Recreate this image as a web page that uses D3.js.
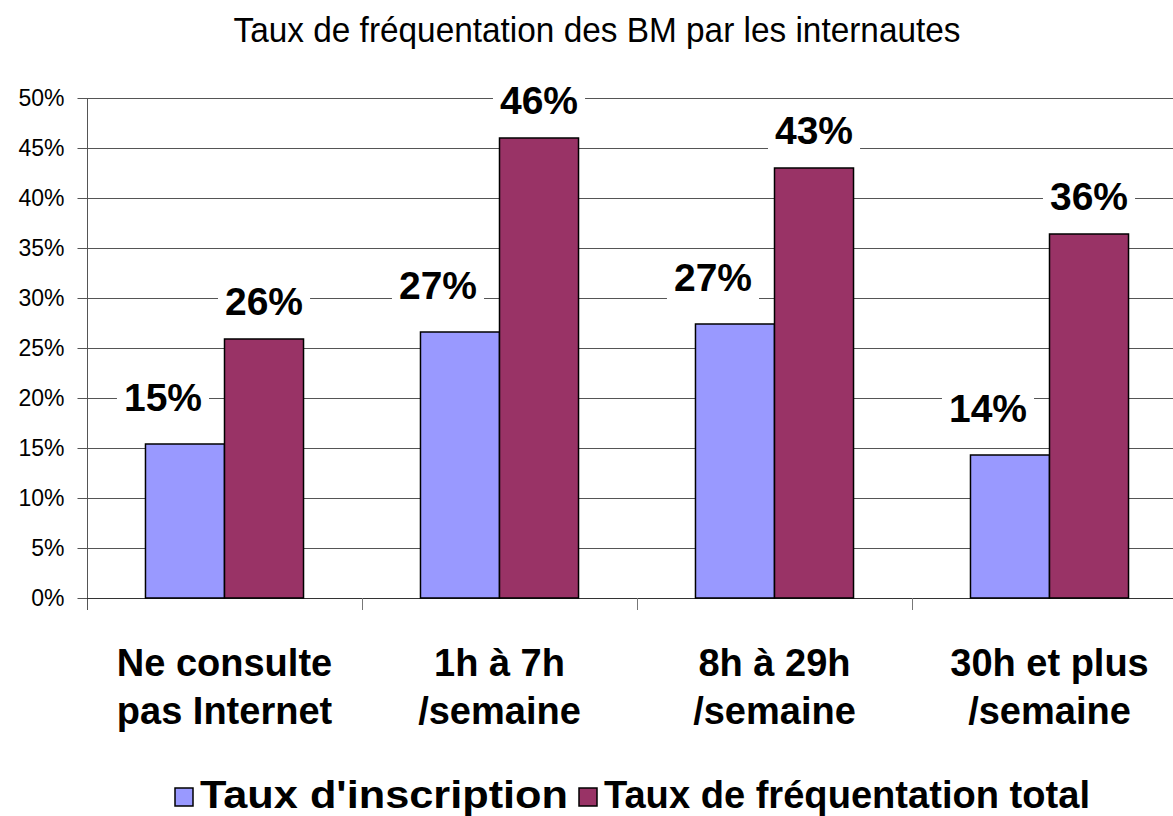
<html>
<head>
<meta charset="utf-8">
<style>
body { margin: 0; background: #fff; }
text { font-family: "Liberation Sans", Arial, sans-serif; }
</style>
</head>
<body>
<div id=chart></div>
<script src="https://cdn.jsdelivr.net/npm/d3@7"></script>
<script>
var categories = [["Ne consulte", "pas Internet"], ["1h à 7h", "/semaine"], ["8h à 29h", "/semaine"], ["30h et plus", "/semaine"]];
var seriesNames = ["Taux d'inscription", "Taux de fréquentation total"];
var inscription = [0.154, 0.266, 0.274, 0.143];
var frequentation = [0.259, 0.460, 0.430, 0.364];
var yTicks = [0, 0.05, 0.10, 0.15, 0.20, 0.25, 0.30, 0.35, 0.40, 0.45, 0.50];
var colors = ["#9999ff", "#993366"];

var W = 1173, H = 816;
var svg = d3.select("#chart").append("svg").attr("width", W).attr("height", H);

var mLeft = 87, mTop = 98, mBottom = 598, bandW = 275;
var catKeys = categories.map(function (c, i) { return i; });

var x = d3.scaleBand().domain(catKeys).range([mLeft, mLeft + bandW * catKeys.length]);
var x1 = d3.scaleBand().domain([0, 1]).range([0, x.bandwidth()]).paddingOuter(0.74);
var y = d3.scaleLinear().domain([0, 0.5]).range([mBottom, mTop]);

// title (narrow face in the original, so squeeze it)
svg.append("text")
    .attr("x", 597).attr("y", 42)
    .attr("text-anchor", "middle")
    .attr("font-size", 35)
    .attr("textLength", 727).attr("lengthAdjust", "spacingAndGlyphs")
    .text("Taux de fréquentation des BM par les internautes");

// gridlines
svg.append("g").selectAll("line").data(yTicks.slice(1)).join("line")
    .attr("x1", mLeft).attr("x2", W)
    .attr("y1", function (d) { return Math.round(y(d)) + 0.5; })
    .attr("y2", function (d) { return Math.round(y(d)) + 0.5; })
    .attr("stroke", "#555");

// y axis
var yAxis = d3.axisLeft(y).tickValues(yTicks).tickFormat(d3.format(".0%")).tickSize(10).tickPadding(13);
var gy = svg.append("g").attr("transform", "translate(" + (mLeft + 0.5) + ",0)").call(yAxis);
gy.select(".domain").attr("stroke", "#555").attr("d", "M0," + mTop + "V" + (mBottom + 12));
gy.selectAll(".tick line").attr("stroke", "#555");
gy.selectAll(".tick text").attr("font-size", 23).attr("font-family", "Liberation Sans, Arial, sans-serif").attr("fill", "#000");

// x axis line and category ticks
svg.append("line").attr("x1", mLeft).attr("x2", W)
    .attr("y1", mBottom + 0.5).attr("y2", mBottom + 0.5).attr("stroke", "#333");
svg.append("g").selectAll("line").data(catKeys.slice(1)).join("line")
    .attr("x1", function (d) { return Math.round(x(d)) + 0.5; })
    .attr("x2", function (d) { return Math.round(x(d)) + 0.5; })
    .attr("y1", mBottom).attr("y2", mBottom + 12)
    .attr("stroke", "#777");

// category labels
var cl = svg.append("g").selectAll("text").data(catKeys).join("text")
    .attr("x", function (d) { return x(d) + x.bandwidth() / 2; })
    .attr("y", 676)
    .attr("text-anchor", "middle")
    .attr("font-size", 38).attr("font-weight", "bold");
cl.selectAll("tspan").data(function (d) { return categories[d]; }).join("tspan")
    .attr("x", function () { return d3.select(this.parentNode).attr("x"); })
    .attr("dy", function (d, i) { return i ? 48 : 0; })
    .text(function (d) { return d; });

// bars
var series = [inscription, frequentation];
var labelDx = [-22, 0], labelDy = [33, 24];
series.forEach(function (vals, s) {
    svg.append("g").selectAll("rect").data(vals).join("rect")
        .attr("x", function (d, i) { return x(i) + x1(s); })
        .attr("y", function (d) { return y(d); })
        .attr("width", x1.bandwidth())
        .attr("height", function (d) { return y(0) - y(d); })
        .attr("fill", colors[s])
        .attr("stroke", "#000").attr("stroke-width", 1.5);
});

// value labels with white boxes
series.forEach(function (vals, s) {
    vals.forEach(function (v, i) {
        var g = svg.append("g");
        var t = g.append("text")
            .attr("x", x(i) + x1(s) + x1.bandwidth() / 2 + labelDx[s])
            .attr("y", y(v) - labelDy[s])
            .attr("text-anchor", "middle")
            .attr("font-size", 39).attr("font-weight", "bold")
            .text(d3.format(".0%")(v));
        var b = t.node().getBBox();
        g.insert("rect", "text")
            .attr("x", b.x - 7).attr("y", b.y - 2)
            .attr("width", b.width + 14).attr("height", b.height + 8)
            .attr("fill", "#fff");
    });
});

// legend
var legX = [175, 579], legLen = [368, 486];
seriesNames.forEach(function (name, s) {
    svg.append("rect")
        .attr("x", legX[s]).attr("y", 788).attr("width", 18).attr("height", 18)
        .attr("fill", colors[s]).attr("stroke", "#000").attr("stroke-width", 1.5);
    svg.append("text")
        .attr("x", legX[s] + 25).attr("y", 808)
        .attr("font-size", 39).attr("font-weight", "bold")
        .attr("textLength", legLen[s]).attr("lengthAdjust", "spacingAndGlyphs")
        .text(name);
});
</script>
</body>
</html>
